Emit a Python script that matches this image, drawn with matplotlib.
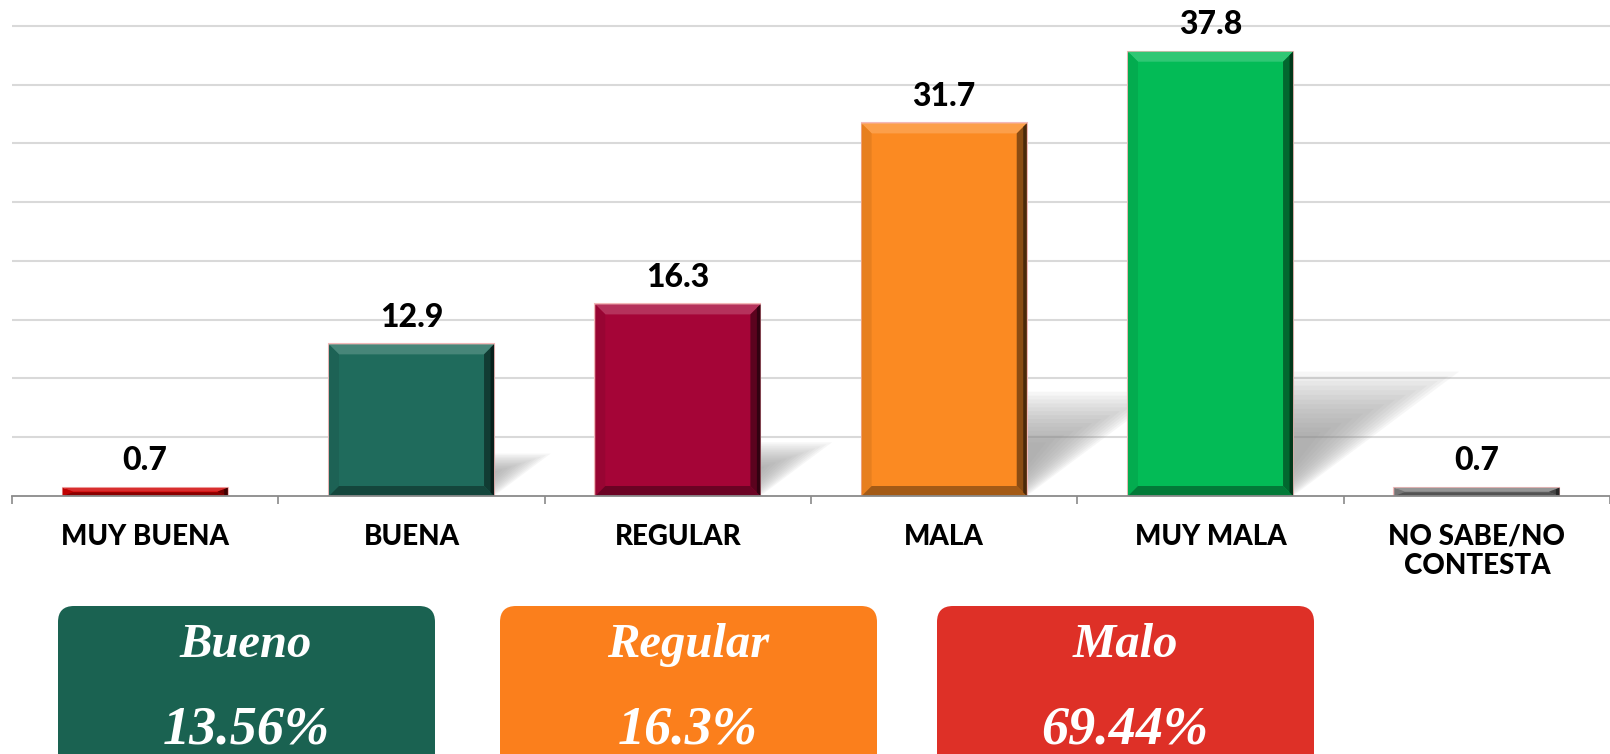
import matplotlib
matplotlib.use('Agg')
import matplotlib.pyplot as plt
from matplotlib.patches import FancyBboxPatch, Polygon
from matplotlib.colors import to_rgb
import numpy as np

# datos de la encuesta
categorias = ['MUY BUENA', 'BUENA', 'REGULAR', 'MALA', 'MUY MALA', 'NO SABE/NO\nCONTESTA']
valores = [0.7, 12.9, 16.3, 31.7, 37.8, 0.7]
colores = ['#d00000', '#1f6b5c', '#a50537', '#fb8a22', '#03bb56', '#7f7f7f']

resumen_titulos = ['Bueno', 'Regular', 'Malo']
resumen_valores = ['13.56%', '16.3%', '69.44%']
resumen_colores = ['#1a6251', '#fb7f1c', '#de3027']


def mezcla(c, otro, t):
    a = np.array(to_rgb(c))
    b = np.array(to_rgb(otro))
    return tuple(a * (1 - t) + b * t)


fig = plt.figure(figsize=(16.1, 7.54), dpi=100)
ax = fig.add_axes([12 / 1610, 1 - 496 / 754, 1 - 12 / 1610, 496 / 754])

x = np.arange(len(valores))
ancho = 0.62

# sombras diagonales detras de las barras
for xi, v in zip(x, valores):
    if v < 2:
        continue
    hs = 0.28 * v
    dx = 0.0165 * v
    x0, x1 = xi - ancho / 2, xi + ancho / 2
    px, py = xi + ancho * 0.3, hs * 0.3
    pts = np.array([[x0, 0], [x1, 0], [x1 + dx, hs], [x0 + dx, hs]])
    n = 14
    for k in range(n):
        s = 1 - 0.75 * k / n
        p = np.column_stack([px + (pts[:, 0] - px) * s, py + (pts[:, 1] - py) * s])
        p[:2, 1] = 0
        ax.add_patch(Polygon(p, closed=True, facecolor='#8c8c8c', edgecolor='none',
                             alpha=0.07, zorder=1))

barras = ax.bar(x, valores, width=ancho, color=colores, edgecolor='#f3b9b9',
                linewidth=1.5, zorder=3)

# bisel de las barras
bw = 10 / 266
for xi, v, c in zip(x, valores, colores):
    x0, x1 = xi - ancho / 2, xi + ancho / 2
    y0, y1 = 0, v
    bh = min(0.85, v / 2.2)
    arriba = [(x0, y1), (x1, y1), (x1 - bw, y1 - bh), (x0 + bw, y1 - bh)]
    derecha = [(x1, y1), (x1, y0), (x1 - bw, y0 + bh), (x1 - bw, y1 - bh)]
    abajo = [(x0, y0), (x1, y0), (x1 - bw, y0 + bh), (x0 + bw, y0 + bh)]
    izq = [(x0, y0), (x0, y1), (x0 + bw, y1 - bh), (x0 + bw, y0 + bh)]
    ax.add_patch(Polygon(arriba, facecolor=mezcla(c, 'white', 0.18), edgecolor='none', zorder=4))
    ax.add_patch(Polygon(izq, facecolor=mezcla(c, 'black', 0.08), edgecolor='none', zorder=4))
    ax.add_patch(Polygon(abajo, facecolor=mezcla(c, 'black', 0.35), edgecolor='none', zorder=4))
    ax.add_patch(Polygon(derecha, facecolor=mezcla(c, 'black', 0.45), edgecolor='none', zorder=4))
    # borde exterior derecho mas oscuro
    ax.add_patch(Polygon([(x1, y1), (x1, y0), (x1 - bw * 0.35, y0 + bh * 0.35),
                          (x1 - bw * 0.35, y1 - bh * 0.35)],
                         facecolor=mezcla(c, 'black', 0.7), edgecolor='none', zorder=4))

for xi, v in zip(x, valores):
    ax.annotate(f'{v}', (xi, v), xytext=(0, 12.5), textcoords='offset points',
                ha='center', va='baseline', fontsize=23, fontweight='black',
                family='Lato', color='black', zorder=6)

ax.set_xlim(-0.5, len(valores) - 0.5)
ax.set_ylim(0, 42.2)
ax.set_yticks(np.arange(5, 41, 5))
ax.yaxis.grid(True, color='#d9d9d9', linewidth=1.5, zorder=0)
ax.set_axisbelow(True)
ax.tick_params(axis='y', left=False, labelleft=False)

ax.set_xticks(x)
ax.set_xticklabels(categorias, fontsize=20, fontweight='black', family='Lato',
                   linespacing=1.15)
ax.set_xticks(np.arange(-0.5, len(valores), 1), minor=True)
ax.tick_params(axis='x', which='major', length=0, pad=20)
ax.tick_params(axis='x', which='minor', length=6, width=1.2, color='#8a8a8a')

for lado in ['left', 'right', 'top']:
    ax.spines[lado].set_visible(False)
ax.spines['bottom'].set_color('#8a8a8a')
ax.spines['bottom'].set_linewidth(1.3)
ax.spines['bottom'].set_zorder(5)

# cajas de resumen (en pixeles)
ax2 = fig.add_axes([0, 0, 1, 1])
ax2.set_xlim(0, 1610)
ax2.set_ylim(754, 0)
ax2.axis('off')

cajas_x = [58, 500, 937]
for cx, tit, val, col in zip(cajas_x, resumen_titulos, resumen_valores, resumen_colores):
    ax2.add_patch(FancyBboxPatch((cx, 606), 377, 200,
                                 boxstyle='round,pad=0,rounding_size=16',
                                 facecolor=col, edgecolor='none'))
    ax2.text(cx + 188, 657, tit, ha='center', va='baseline', color='white',
             fontsize=35, fontweight='bold', style='italic', family='Liberation Serif')
    ax2.text(cx + 188, 744, val, ha='center', va='baseline', color='white',
             fontsize=39, fontweight='bold', style='italic', family='Liberation Serif')

plt.savefig('out.png', dpi=100)
plt.close()
